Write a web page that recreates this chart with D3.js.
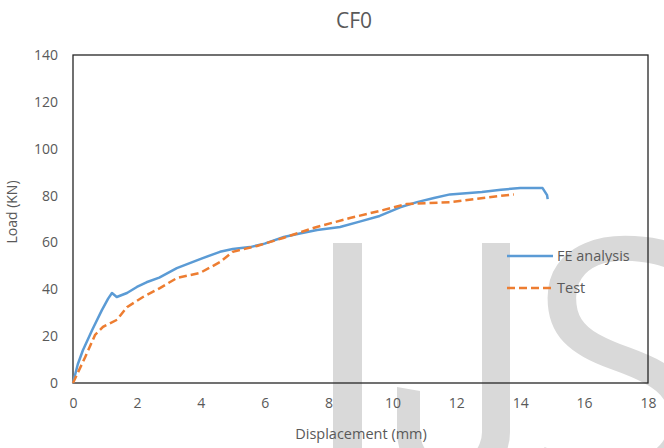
<!DOCTYPE html>
<html>
<head>
<meta charset="utf-8">
<script src="https://cdn.jsdelivr.net/npm/d3@7"></script>
<style>
  body { margin: 0; background: #fff; }
  text { font-family: "Open Sans", sans-serif; }
</style>
</head>
<body>
<div id="chart"></div>
<script>
// Load-displacement curve for CF0: FE analysis vs test

const feDisp = [0, 0.15, 0.31, 0.6, 0.9, 1.1, 1.22, 1.37, 1.69, 2.0, 2.3, 2.7, 3.25, 4.0, 4.6, 5.0, 5.54, 6.0, 6.6, 7.1, 7.64, 8.36, 9.0, 9.6, 10.24, 10.77, 11.3, 11.8, 12.8, 13.4, 14.0, 14.7, 14.84, 14.86];
const feLoad = [0, 8, 14, 22.6, 31, 36, 38.4, 36.7, 38.4, 41, 43, 45, 49, 53, 56, 57.2, 58, 59.5, 62.3, 63.8, 65.3, 66.6, 69, 71.3, 75, 77.2, 79, 80.5, 81.5, 82.5, 83.2, 83.2, 80.2, 78.5];

const testDisp = [0, 0.38, 0.69, 0.94, 1.38, 1.69, 2.19, 2.72, 3.25, 3.98, 4.6, 5.0, 5.76, 6.58, 7.63, 8.67, 9.7, 10.45, 11.8, 12.84, 13.8];
const testLoad = [0, 11, 20.5, 24, 27, 32.4, 36.7, 40.5, 44.8, 47, 51.6, 56, 58.5, 61.9, 66.6, 70.4, 73.8, 76.4, 77.2, 79, 80.5];

const xTicks = [0, 2, 4, 6, 8, 10, 12, 14, 16, 18];
const yTicks = [0, 20, 40, 60, 80, 100, 120, 140];

const seriesNames = ["FE analysis", "Test"];

const width = 664,
  height = 448,
  margin = { top: 55, right: 16, bottom: 65, left: 73 },
  textColor = "#595959",
  blue = "#5B9BD5",
  orange = "#ED7D31";

const svg = d3.select("#chart")
  .append("svg")
  .attr("width", width)
  .attr("height", height);

// watermark "IJS" behind the chart (I and J as shapes, S as a glyph)
const wm = svg.append("g").attr("fill", "#d9d9d9");
wm.append("rect").attr("x", 333).attr("y", 243).attr("width", 29).attr("height", 210);
wm.append("path")
  .attr("d", "M482,243 H510 V432 A56.5,56.5 0 0 1 397,432 V387 L420,391 V432 A31,31 0 0 0 482,432 Z");
wm.append("text")
  .attr("x", 527)
  .attr("y", 482)
  .attr("font-size", 340)
  .text("S");

const x = d3.scaleLinear()
  .domain([0, 18])
  .range([margin.left, width - margin.right]);

const y = d3.scaleLinear()
  .domain([0, 140])
  .range([height - margin.bottom, margin.top]);

// plot frame
svg.append("rect")
  .attr("x", x(0))
  .attr("y", y(140))
  .attr("width", x(18) - x(0))
  .attr("height", y(0) - y(140))
  .attr("fill", "none")
  .attr("stroke", "#262626")
  .attr("stroke-width", 1.3);

const xAxis = svg.append("g")
  .attr("transform", `translate(0,${y(0)})`)
  .call(d3.axisBottom(x).tickValues(xTicks).tickSize(0).tickPadding(15));

const yAxis = svg.append("g")
  .attr("transform", `translate(${x(0)},0)`)
  .call(d3.axisLeft(y).tickValues(yTicks).tickSize(0).tickPadding(15));

for (let ax of [xAxis, yAxis]) {
  ax.select(".domain").remove();
  ax.selectAll("text")
    .attr("font-family", "Open Sans, sans-serif")
    .attr("font-size", 14)
    .attr("fill", textColor);
}

const line = d3.line()
  .x(d => x(d[0]))
  .y(d => y(d[1]));

const fe = feDisp.map((d, i) => [d, feLoad[i]]);
const test = testDisp.map((d, i) => [d, testLoad[i]]);

svg.append("path")
  .datum(fe)
  .attr("fill", "none")
  .attr("stroke", blue)
  .attr("stroke-width", 2.5)
  .attr("stroke-linejoin", "round")
  .attr("d", line);

svg.append("path")
  .datum(test)
  .attr("fill", "none")
  .attr("stroke", orange)
  .attr("stroke-width", 2.5)
  .attr("stroke-dasharray", "8,4")
  .attr("d", line);

// legend
const legend = svg.append("g")
  .attr("font-size", 14.5)
  .attr("fill", textColor);

seriesNames.forEach((name, i) => {
  const ly = 256 + i * 32;
  legend.append("line")
    .attr("x1", 507).attr("x2", 553)
    .attr("y1", ly).attr("y2", ly)
    .attr("stroke", i ? orange : blue)
    .attr("stroke-width", 2.5)
    .attr("stroke-dasharray", i ? "8,4" : null);
  legend.append("text")
    .attr("x", 557)
    .attr("y", ly)
    .attr("dy", "0.35em")
    .text(name);
});

// titles
svg.append("text")
  .attr("x", 354)
  .attr("y", 28)
  .attr("text-anchor", "middle")
  .attr("font-size", 21)
  .attr("fill", textColor)
  .text("CF0");

svg.append("text")
  .attr("x", 361)
  .attr("y", 439)
  .attr("text-anchor", "middle")
  .attr("font-size", 14.5)
  .attr("fill", textColor)
  .text("Displacement (mm)");

svg.append("text")
  .attr("transform", "translate(17,212) rotate(-90)")
  .attr("text-anchor", "middle")
  .attr("font-size", 14)
  .attr("fill", textColor)
  .text("Load (KN)");
</script>
</body>
</html>
